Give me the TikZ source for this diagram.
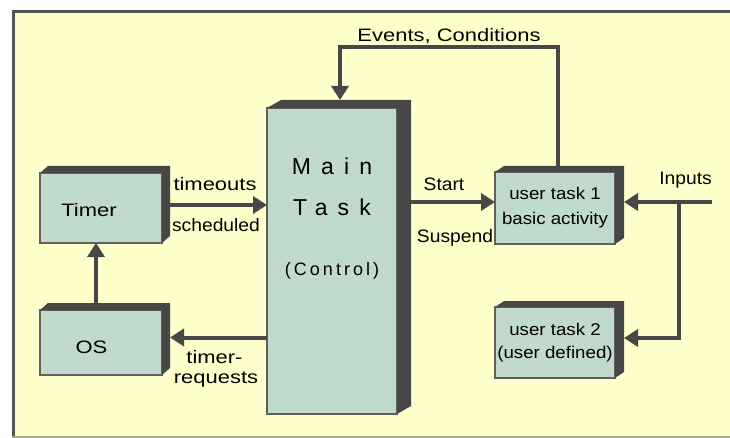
\documentclass[tikz,border=0pt]{standalone}
\usepackage{fontspec}
\setmainfont{Liberation Sans}
\newfontfamily\wfont[FakeStretch=1.22]{Liberation Sans}
\newfontfamily\nfont[FakeStretch=1.07]{Liberation Sans}
\newfontfamily\tfont[FakeStretch=1.1]{Liberation Sans}
\newfontfamily\mfont[LetterSpace=44]{Liberation Sans}
\newfontfamily\cfont[LetterSpace=17]{Liberation Sans}
\usetikzlibrary{arrows.meta,calc}
\definecolor{bgyellow}{HTML}{FFFFCC}
\definecolor{boxfill}{HTML}{C0DACC}
\definecolor{darkc}{HTML}{474747}
\definecolor{edgec}{HTML}{606060}
\definecolor{framedark}{HTML}{555555}
\definecolor{framelight}{HTML}{A8A890}
\newcommand\boxdepth[3]{\fill[darkc] (#1.north west) -- ++(#2,#3) -- ($(#1.north east)+(#2,#3)$) -- ($(#1.south east)+(#2,#3)$) -- (#1.south east) -- (#1.north east) -- cycle;}
\begin{document}
\begin{tikzpicture}[x=1pt,y=-1pt,
 blk/.style={draw=edgec, line width=1.2pt, fill=boxfill, inner sep=0pt, outer sep=0pt},
 arr/.style={draw=darkc, line width=4pt, -{Triangle[length=14pt,width=17pt]}},
 wlab/.style={font=\wfont\fontsize{18}{22}\selectfont, inner sep=0pt, anchor=base},
 nlab/.style={font=\nfont\fontsize{18}{22}\selectfont, inner sep=0pt, anchor=base},
 tlab/.style={font=\tfont\fontsize{17}{25}\selectfont, align=center},
 mlab/.style={font=\mfont\fontsize{23}{23}\selectfont, inner sep=0pt, anchor=base},
 clab/.style={font=\cfont\fontsize{18}{18}\selectfont, inner sep=0pt, anchor=base}]
\useasboundingbox (0,0) rectangle (730,438);
\fill[white] (0,0) rectangle (730,438);
\fill[bgyellow] (12,10) rectangle (740,436);
\draw[framedark, line width=3pt] (13.5,437) -- (13.5,11.5) -- (740,11.5);
\draw[framelight, line width=2pt] (12,436.5) -- (740,436.5);

\node[blk, minimum width=122pt, minimum height=70pt] (timer) at (101,208) {};
\node[blk, minimum width=122pt, minimum height=65pt] (os) at (101,342.5) {};
\node[blk, minimum width=130pt, minimum height=306pt] (main) at (332,261) {};
\node[blk, tlab, minimum width=120pt, minimum height=72pt] (task1) at (555,208) {user task 1\\basic activity};
\node[blk, tlab, font=\tfont\fontsize{17}{23}\selectfont, minimum width=120pt, minimum height=71pt] (task2) at (555,342.5) {user task 2\\(user defined)};
\boxdepth{timer}{8}{-7}
\boxdepth{os}{8}{-7}
\boxdepth{main}{14}{-8}
\boxdepth{task1}{9}{-6}
\boxdepth{task2}{9}{-6}

\node[wlab] (timertxt) at (89,217) {Timer};
\node[wlab] (ostxt) at (91.5,353) {OS};
\node[mlab] (maintxt) at (332,175) {Main};
\node[mlab] (tasktxt) at (332,215) {Task};
\node[clab] (ctrltxt) at (332,275) {(Control)};

\draw[arr] ($(task1.north)+(3,-6)$) |- node[wlab, pos=0.75, yshift=5pt]{Events, Conditions} ($(main.north)+(8,-61)$) -- ($(main.north)+(8,-8)$);
\draw[arr] ($(timer.east)+(8,-3)$) -- node[wlab, xshift=-3.5pt, yshift=14pt]{timeouts} node[nlab, xshift=-2.5pt, yshift=-27pt]{scheduled} ($(timer.east -| main.west)+(0,-3)$);
\draw[arr] ($(main.west |- os.east)+(0,-5)$) -- node[wlab, xshift=-4pt, yshift=-26pt]{timer-} node[wlab, xshift=-2.5pt, yshift=-46pt]{requests} ($(os.east)+(8,-5)$);
\draw[arr] ($(os.north)+(-5,-7)$) -- ($(timer.south)+(-5,0)$);
\draw[arr] ($(main.east |- task1.west)+(14,-6)$) -- node[nlab, xshift=-9pt, yshift=11pt]{Start} node[nlab, xshift=2pt, yshift=-41pt]{Suspend} ($(task1.west)+(0,-6)$);
\coordinate (inR) at (712,202);
\draw[arr] (inR) -- node[nlab, pos=0.3, yshift=17pt]{Inputs} ($(task1.east)+(9,-6)$);
\draw[arr] ($(inR)+(-33,0)$) |- ($(task2.east)+(9,-4.5)$);
\end{tikzpicture}
\end{document}
